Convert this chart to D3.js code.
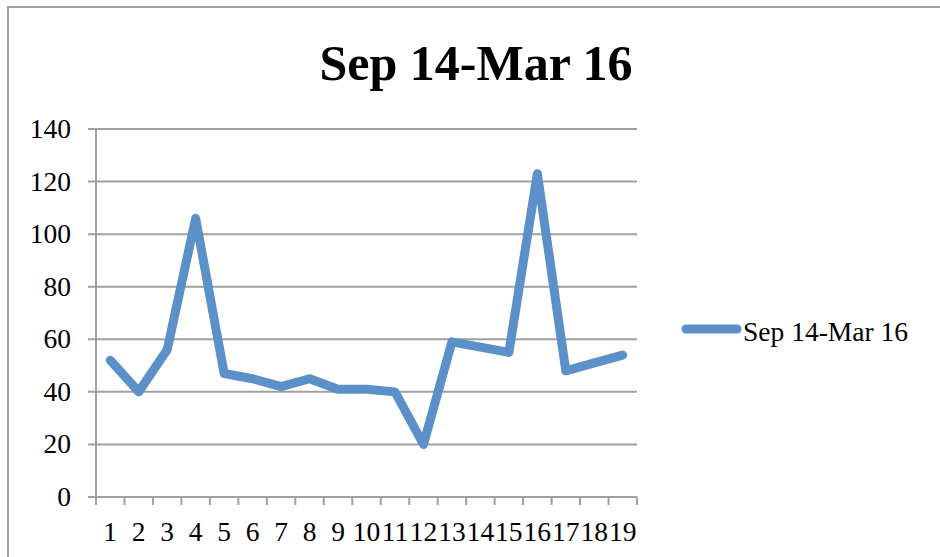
<!DOCTYPE html>
<html>
<head>
<meta charset="utf-8">
<script src="https://cdn.jsdelivr.net/npm/d3@7.9.0/dist/d3.min.js"></script>
<style>
  body { margin: 0; background: #fff; }
  svg { display: block; font-family: "Liberation Serif", "Times New Roman", serif; }
</style>
</head>
<body>
<svg width="940" height="557"></svg>
<script>
const title = 'Sep 14-Mar 16';
const seriesName = 'Sep 14-Mar 16';
const categories = d3.range(1, 20).map(String);
const values = [52, 40, 56, 106, 47, 45, 42, 45, 41, 41, 40, 20, 59, 57, 55, 123, 48, 51, 54];
const yTicks = [0, 20, 40, 60, 80, 100, 120, 140];

const blue = '#5b90c8';
const grey = '#a0a0a0';

const svg = d3.select('svg');

// chart frame (only left and top edges are in view)
svg.append('rect')
  .attr('x', 8).attr('y', 7)
  .attr('width', 1000).attr('height', 600)
  .attr('fill', 'none')
  .attr('stroke', grey)
  .attr('stroke-width', 2);

const plot = { left: 96, right: 637, top: 129, bottom: 497 };

let x = d3.scaleBand().domain(categories).range([plot.left, plot.right]);
let y = d3.scaleLinear().domain([0, 140]).range([plot.bottom, plot.top]);

// gridlines
svg.append('g')
  .selectAll('line')
  .data(yTicks)
  .join('line')
  .attr('x1', plot.left - 8)
  .attr('x2', plot.right)
  .attr('y1', (d) => y(d))
  .attr('y2', (d) => y(d))
  .attr('stroke', grey)
  .attr('stroke-width', 2);

// y axis line
svg.append('line')
  .attr('x1', plot.left).attr('x2', plot.left)
  .attr('y1', plot.top).attr('y2', plot.bottom + 8)
  .attr('stroke', grey).attr('stroke-width', 2);

// x ticks at category boundaries
let boundaries = categories.map((c) => x(c)).concat([plot.right]);
svg.append('g')
  .selectAll('line')
  .data(boundaries)
  .join('line')
  .attr('x1', (d) => d).attr('x2', (d) => d)
  .attr('y1', plot.bottom).attr('y2', plot.bottom + 8)
  .attr('stroke', grey).attr('stroke-width', 2);

// y labels
svg.append('g')
  .selectAll('text')
  .data(yTicks)
  .join('text')
  .attr('x', 71)
  .attr('y', (d) => y(d) + 9)
  .attr('text-anchor', 'end')
  .attr('font-size', 27.5)
  .attr('fill', '#000')
  .text((d) => d);

// x labels
svg.append('g')
  .selectAll('text')
  .data(categories)
  .join('text')
  .attr('x', (d) => x(d) + x.bandwidth() / 2)
  .attr('y', 541)
  .attr('text-anchor', 'middle')
  .attr('font-size', 27.5)
  .attr('fill', '#000')
  .text((d) => d);

// the series line
let line = d3.line()
  .x((d, i) => x(categories[i]) + x.bandwidth() / 2)
  .y((d) => y(d));

svg.append('path')
  .datum(values)
  .attr('d', line)
  .attr('fill', 'none')
  .attr('stroke', blue)
  .attr('stroke-width', 9)
  .attr('stroke-linejoin', 'round')
  .attr('stroke-linecap', 'round');

// title
svg.append('text')
  .attr('x', 476)
  .attr('y', 80)
  .attr('text-anchor', 'middle')
  .attr('font-size', 50)
  .attr('font-weight', 'bold')
  .attr('fill', '#000')
  .text(title);

// legend
svg.append('line')
  .attr('x1', 686).attr('x2', 737)
  .attr('y1', 329).attr('y2', 329)
  .attr('stroke', blue)
  .attr('stroke-width', 9)
  .attr('stroke-linecap', 'round');

svg.append('text')
  .attr('x', 743)
  .attr('y', 341)
  .attr('font-size', 27.5)
  .attr('fill', '#000')
  .text(seriesName);
</script>
</body>
</html>
